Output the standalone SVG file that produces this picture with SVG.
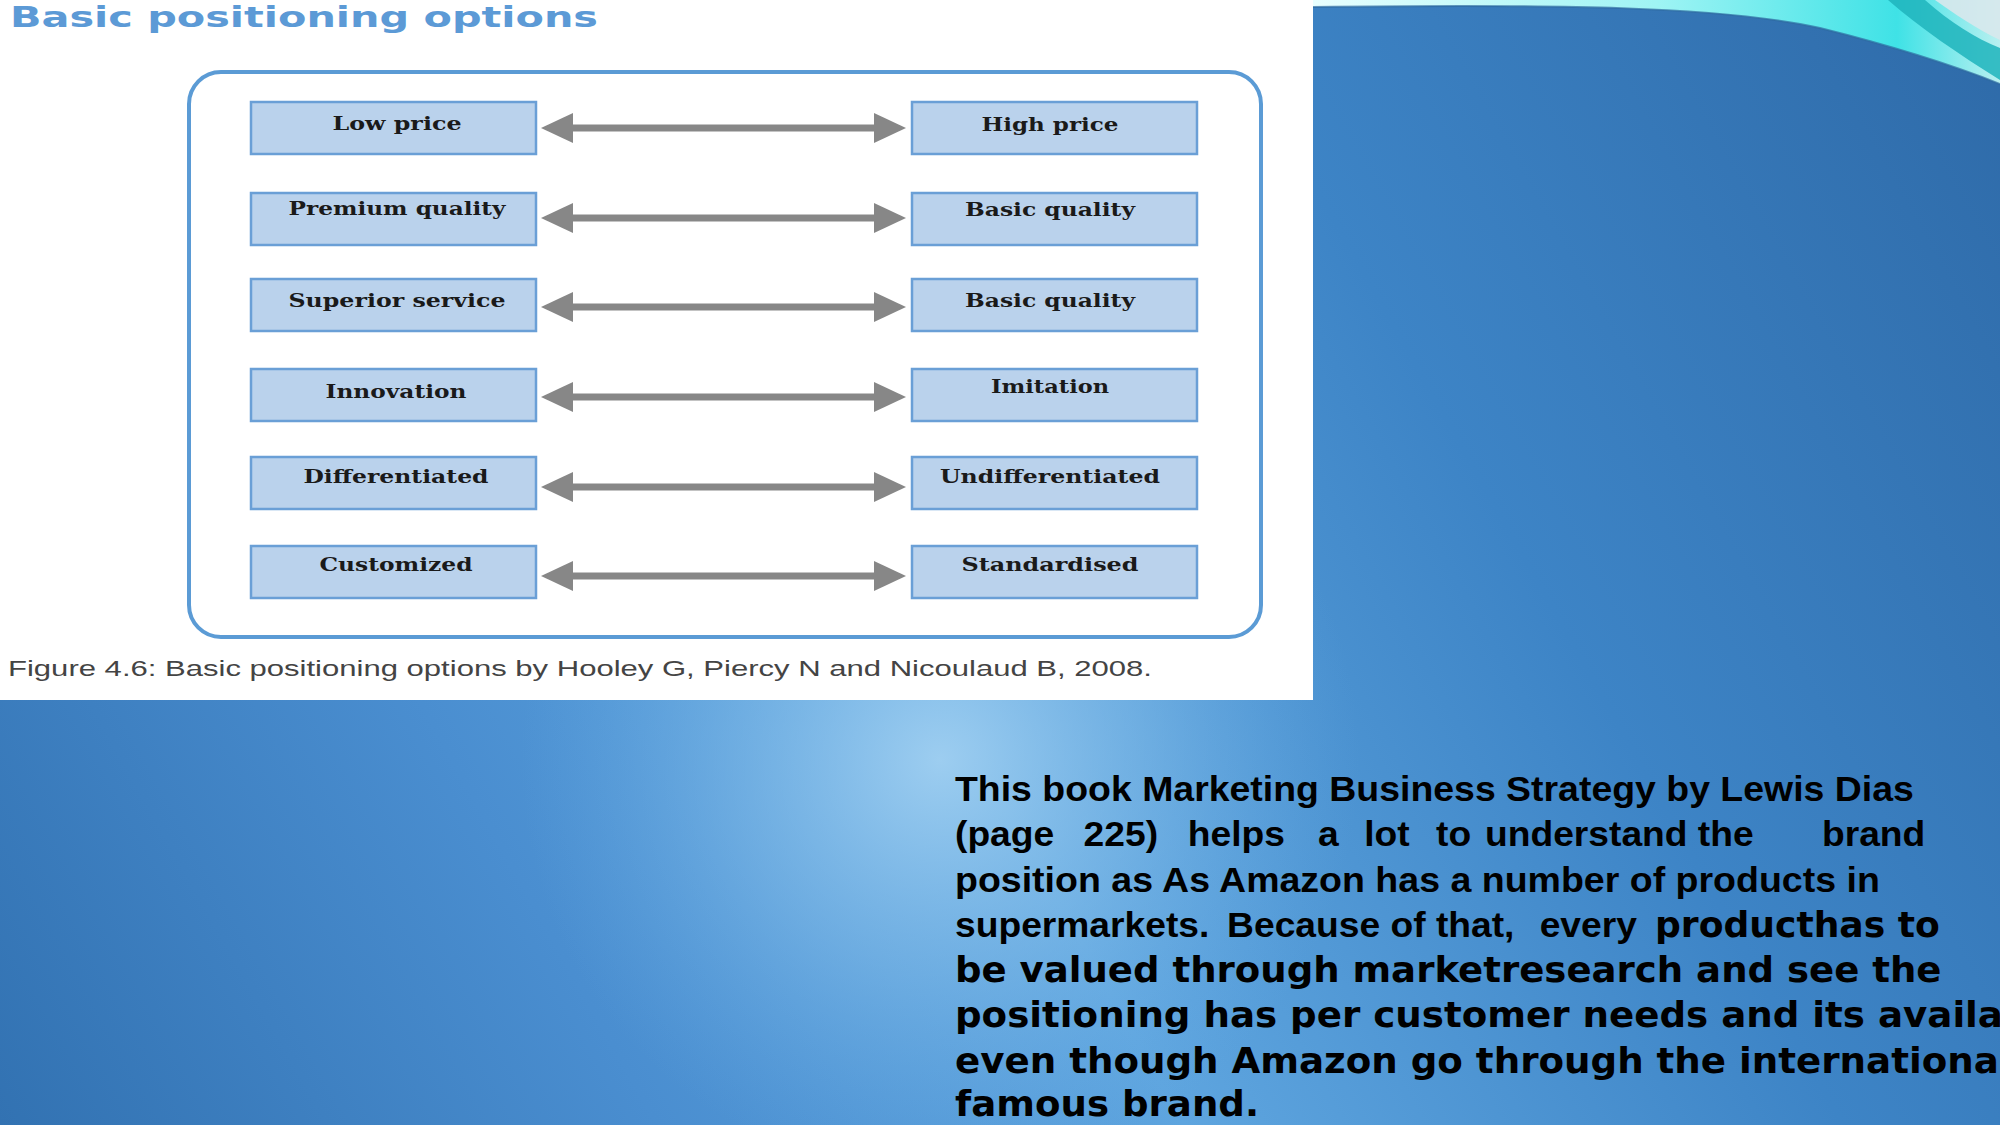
<svg xmlns="http://www.w3.org/2000/svg" width="2000" height="1125" viewBox="0 0 2000 1125">
<defs>
<linearGradient id="bg" gradientUnits="userSpaceOnUse" x1="2000" y1="0" x2="0" y2="1125">
<stop offset="0" stop-color="#2e6aa8"/>
<stop offset="0.3" stop-color="#3d84c6"/>
<stop offset="0.55" stop-color="#5ea5df"/>
<stop offset="0.75" stop-color="#4a8ed0"/>
<stop offset="1" stop-color="#3272b2"/>
</linearGradient>
<radialGradient id="glow" gradientUnits="userSpaceOnUse" cx="940" cy="760" r="420">
<stop offset="0" stop-color="#a4d2f2" stop-opacity="0.9"/>
<stop offset="0.5" stop-color="#8ac2ec" stop-opacity="0.45"/>
<stop offset="1" stop-color="#6aaee6" stop-opacity="0"/>
</radialGradient>
<linearGradient id="swoosh" x1="0" y1="0" x2="1" y2="0">
<stop offset="0" stop-color="#e8ffff"/>
<stop offset="0.5" stop-color="#9ff4f4"/>
<stop offset="0.85" stop-color="#3fe2e6"/>
<stop offset="1" stop-color="#b8f0f0"/>
</linearGradient>
<marker id="ah" markerUnits="userSpaceOnUse" markerWidth="32" markerHeight="30" refX="0" refY="15" orient="auto-start-reverse" viewBox="0 0 32 30">
<path d="M0,0 L32,15 L0,30 Z" fill="#878787"/>
</marker>
<style>
.box{fill:#bad2ec;stroke:#6a9fd6;stroke-width:2.5}
.bt{font-family:"DejaVu Serif",serif;font-weight:bold;font-size:18px;fill:#1a1a1a;text-anchor:middle}
.conn line{stroke:#878787;stroke-width:7;marker-start:url(#ah);marker-end:url(#ah)}
.lib{font-family:"Liberation Sans",Arial,sans-serif;font-weight:bold;font-size:35px;fill:#000}
.dej{font-family:"DejaVu Sans",sans-serif;font-weight:bold;font-size:35px;fill:#000}
</style>
</defs>

<rect x="0" y="0" width="2000" height="1125" fill="url(#bg)"/>
<rect x="0" y="0" width="2000" height="1125" fill="url(#glow)"/>

<g id="swoosh-deco">
<path d="M1313,0 L2000,0 L2000,84 C1960,68 1900,48 1820,28 C1720,6 1560,4 1313,7 Z" fill="url(#swoosh)"/>
<path d="M1313,7 C1560,4 1720,6 1820,28 C1900,48 1960,68 2000,84" fill="none" stroke="#2d6aa0" stroke-width="2" opacity="0.7"/>
<path d="M1888,0 L1925,0 C1950,22 1975,38 2000,48 L2000,80 C1960,55 1920,28 1888,0 Z" fill="#1fb4bc" opacity="0.85"/>
<path d="M1935,0 L2000,0 L2000,40 C1975,28 1955,14 1935,0 Z" fill="#d8e8ec" opacity="0.9"/>
</g>

<rect id="panel" x="0" y="0" width="1313" height="700" fill="#ffffff"/>

<text id="title" x="10" y="27" textLength="588" lengthAdjust="spacingAndGlyphs" style="font-family:'DejaVu Sans',sans-serif;font-weight:bold;font-size:29px;fill:#5c9ad6">Basic positioning options</text>

<rect id="frame" x="189" y="72" width="1072" height="565" rx="32" ry="32" fill="none" stroke="#5b9bd5" stroke-width="4"/>

<g id="connectors" class="conn">
<line x1="573" y1="128" x2="874" y2="128"/>
<line x1="573" y1="218" x2="874" y2="218"/>
<line x1="573" y1="307" x2="874" y2="307"/>
<line x1="573" y1="397" x2="874" y2="397"/>
<line x1="573" y1="487" x2="874" y2="487"/>
<line x1="573" y1="576" x2="874" y2="576"/>
</g>

<g id="n-low-price"><rect class="box" x="251" y="102" width="285" height="52"/><text class="bt" x="397" y="130" textLength="129" lengthAdjust="spacingAndGlyphs">Low price</text></g>
<g id="n-high-price"><rect class="box" x="912" y="102" width="285" height="52"/><text class="bt" x="1050" y="131" textLength="137" lengthAdjust="spacingAndGlyphs">High price</text></g>
<g id="n-premium-quality"><rect class="box" x="251" y="193" width="285" height="52"/><text class="bt" x="397" y="215" textLength="217" lengthAdjust="spacingAndGlyphs">Premium quality</text></g>
<g id="n-basic-quality-1"><rect class="box" x="912" y="193" width="285" height="52"/><text class="bt" x="1050" y="216" textLength="170" lengthAdjust="spacingAndGlyphs">Basic quality</text></g>
<g id="n-superior-service"><rect class="box" x="251" y="279" width="285" height="52"/><text class="bt" x="397" y="307" textLength="217" lengthAdjust="spacingAndGlyphs">Superior service</text></g>
<g id="n-basic-quality-2"><rect class="box" x="912" y="279" width="285" height="52"/><text class="bt" x="1050" y="307" textLength="170" lengthAdjust="spacingAndGlyphs">Basic quality</text></g>
<g id="n-innovation"><rect class="box" x="251" y="369" width="285" height="52"/><text class="bt" x="396" y="398" textLength="141" lengthAdjust="spacingAndGlyphs">Innovation</text></g>
<g id="n-imitation"><rect class="box" x="912" y="369" width="285" height="52"/><text class="bt" x="1050" y="393" textLength="118" lengthAdjust="spacingAndGlyphs">Imitation</text></g>
<g id="n-differentiated"><rect class="box" x="251" y="457" width="285" height="52"/><text class="bt" x="396" y="483" textLength="185" lengthAdjust="spacingAndGlyphs">Differentiated</text></g>
<g id="n-undifferentiated"><rect class="box" x="912" y="457" width="285" height="52"/><text class="bt" x="1050" y="483" textLength="220" lengthAdjust="spacingAndGlyphs">Undifferentiated</text></g>
<g id="n-customized"><rect class="box" x="251" y="546" width="285" height="52"/><text class="bt" x="396" y="571" textLength="153" lengthAdjust="spacingAndGlyphs">Customized</text></g>
<g id="n-standardised"><rect class="box" x="912" y="546" width="285" height="52"/><text class="bt" x="1050" y="571" textLength="177" lengthAdjust="spacingAndGlyphs">Standardised</text></g>

<text id="caption" x="8" y="676" textLength="1144" lengthAdjust="spacingAndGlyphs" style="font-family:'Liberation Sans',Arial,sans-serif;font-size:22px;fill:#444">Figure 4.6: Basic positioning options by Hooley G, Piercy N and Nicoulaud B, 2008.</text>

<g id="body-text" transform="translate(955,0) scale(1.063,1)">
<text class="lib" x="0" y="801" textLength="902" lengthAdjust="spacingAndGlyphs">This book Marketing Business Strategy by Lewis Dias</text>
<text class="lib" y="846"><tspan x="0">(page</tspan><tspan x="121">225)</tspan><tspan x="219">helps</tspan><tspan x="341.5">a</tspan><tspan x="385">lot</tspan><tspan x="452.5">to</tspan><tspan x="498.6">understand the</tspan><tspan x="815.6">brand</tspan></text>
<text class="lib" x="0" y="892" textLength="870" lengthAdjust="spacingAndGlyphs">position as As Amazon has a number of products in</text>
<text class="lib" y="937"><tspan x="0">supermarkets.</tspan><tspan x="256">Because of that,</tspan><tspan x="550">every</tspan></text>
<text class="dej" x="658.5" y="937" textLength="268" lengthAdjust="spacingAndGlyphs">producthas to</text>
<text class="dej" x="0" y="982" textLength="928" lengthAdjust="spacingAndGlyphs">be valued through marketresearch and see the</text>
<text class="dej" x="0" y="1027">positioning has per customer needs and its availa</text>
<text class="dej" x="0" y="1073">even though Amazon go through the internationa</text>
<text class="dej" x="0" y="1116" textLength="286" lengthAdjust="spacingAndGlyphs">famous brand.</text>
</g>
</svg>
